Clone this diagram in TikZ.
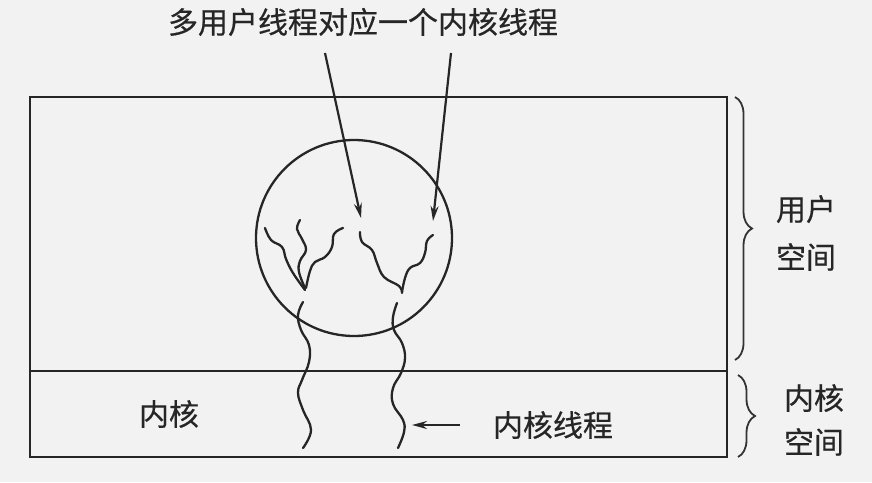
\documentclass[tikz,border=0pt]{standalone}
\usepackage{fontspec}
\newfontfamily\cjk[FakeBold=0.5]{Noto Sans CJK SC}
\usetikzlibrary{positioning,arrows.meta,decorations.pathreplacing}

\begin{document}
\begin{tikzpicture}[
    x=1pt, y=-1pt,
    label/.style={font=\cjk\fontsize{30}{48}\selectfont, inner sep=0pt, align=center, text=black!85},
    thread/.style={line width=2.3pt, line cap=round, line join=round, black!85},
    frame/.style={line width=2.8pt, black!85},
    pointer/.style={-{Stealth[length=15pt,width=8pt]}, line width=2.2pt, black!85},
    spacebrace/.style={decorate, decoration={brace, amplitude=17pt}, line width=1.8pt, black!80},
    >=stealth
]
\fill[black!5] (0,0) rectangle (872,482);
\useasboundingbox (0,0) rectangle (872,482);

% ----- Frame -----
\draw[frame] (30,97) rectangle (727,457);
\draw[frame] (30,371) -- (727,371);

% ----- Thread pool -----
\node[circle, draw, thread, minimum size=196pt, inner sep=0pt] (pool) at (354,238) {};

% ----- User threads -----
\draw[thread] plot[smooth, tension=0.7] coordinates {(265,228) (271,240) (282,247) (286,259) (293,273) (305,290)};
\draw[thread] plot[smooth, tension=0.7] coordinates {(300,220) (297,229) (302,239) (306,250) (300,261) (299,272) (305,288)};
\draw[thread] plot[smooth, tension=0.7] coordinates {(343,228) (334,234) (332,247) (325,257) (315,262) (310,271) (306,288)};
\draw[thread] plot[smooth, tension=0.7] coordinates {(360,232) (362,242) (372,250) (377,263) (384,277) (399,286) (402,293)};
\draw[thread] plot[smooth, tension=0.7] coordinates {(433,235) (427,241) (425,253) (420,263) (410,268) (405,278) (402,292)};

% ----- Kernel threads -----
\draw[thread] plot[smooth, tension=0.7] coordinates {(303,302) (298,315) (301,330) (309,345) (309,362) (302,380) (298,393) (303,410) (311,430) (303,448)};
\draw[thread] plot[smooth, tension=0.7] coordinates {(397,303) (393,317) (394,330) (402,343) (405,358) (401,373) (393,388) (393,404) (403,420) (404,432) (398,448)};

% ----- Labels -----
\node[label] (title) at (363,22) {多用户线程对应一个内核线程};
\node[label] (kernel) at (169,414) {内核};
\node[label] (kthread) at (553,425) {内核线程};
\node[label] (userspace) at (806,233) {用户\\空间};
\node[label] (kernelspace) at (814,420) {内核\\[-4pt]空间};

% ----- Pointers -----
\coordinate (p1) at (325,53);
\coordinate (u1) at (361,218);
\coordinate (p2) at (451,53);
\coordinate (u2) at (433,221);
\coordinate (k1) at (460,425);
\coordinate (k2) at (412,425);
\draw[pointer] (p1) -- (u1);
\draw[pointer] (p2) -- (u2);
\draw[pointer] (k1) -- (k2);

% ----- Braces -----
\draw[spacebrace] (735,97) -- (735,360);
\draw[spacebrace] (738,375) -- (738,457);

\end{tikzpicture}
\end{document}
